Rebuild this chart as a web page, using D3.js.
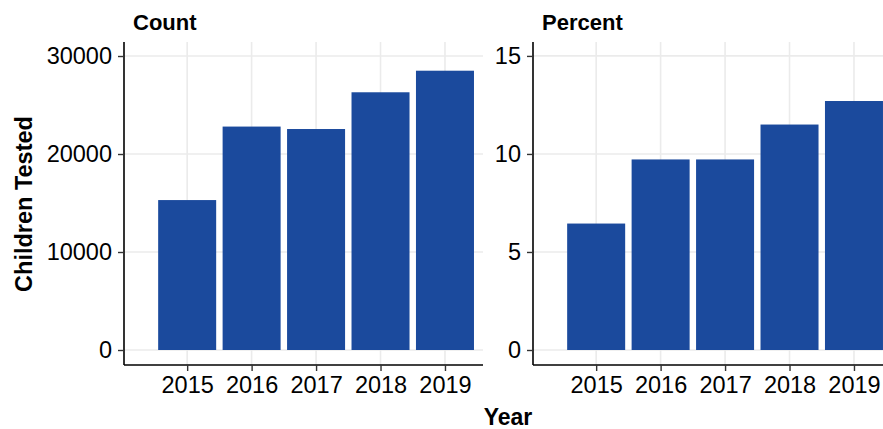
<!DOCTYPE html>
<html lang="en">
<head>
<meta charset="UTF-8">
<title>Children Tested</title>
<script src="https://d3js.org/d3.v7.min.js"></script>
<style>
    body { margin: 0; background: #fff; overflow: hidden; }
    text { font-family: 'Liberation Sans', Arial, sans-serif; fill: #000; }
    .tick text { font-size: 23.5px; }
    .title { font-size: 22px; font-weight: bold; }
    .grid line { stroke: #ebebeb; stroke-width: 1.6px; }
</style>
</head>
<body>
<div id="chart"></div>
<script>
    // data
    let years = [2015, 2016, 2017, 2018, 2019];
    let counts = [15300, 22800, 22550, 26300, 28500];
    let percents = [6.45, 9.72, 9.72, 11.5, 12.7];
    let countTicks = [0, 10000, 20000, 30000];
    let percentTicks = [0, 5, 10, 15];

    let width = 883, height = 429;
    let barColor = "#1b4a9d";

    let svg = d3.select("#chart").append("svg")
        .attr("width", width)
        .attr("height", height);

    let panelTop = 42, panelBottom = 365, panelW = 359;

    function panel(left, values, ticks, yMax, label) {
        let x = d3.scaleLinear()
            .domain([2014.02, 2019.59])
            .range([left, left + panelW]);
        // 0 sits at y=350, top of the panel at 42
        let y = d3.scaleLinear()
            .domain([-yMax * 15 / 308, yMax])
            .range([panelBottom, panelTop]);

        let g = svg.append("g");

        // grid
        let grid = g.append("g").attr("class", "grid");
        grid.selectAll(".v").data(years).enter().append("line")
            .attr("x1", d => x(d)).attr("x2", d => x(d))
            .attr("y1", panelTop).attr("y2", panelBottom);
        grid.selectAll(".h").data(ticks).enter().append("line")
            .attr("x1", left).attr("x2", left + panelW)
            .attr("y1", d => y(d)).attr("y2", d => y(d));

        // bars
        g.selectAll("rect").data(values).enter().append("rect")
            .attr("x", (d, i) => x(years[i] - 0.45))
            .attr("width", x(2015.9) - x(2015))
            .attr("y", d => y(d))
            .attr("height", d => y(0) - y(d))
            .attr("fill", barColor);

        // axes
        let yAxis = g.append("g")
            .attr("transform", "translate(" + left + ",0)")
            .call(d3.axisLeft(y).tickValues(ticks).tickSize(6).tickPadding(6).tickFormat(d3.format("d")));
        yAxis.select(".domain").attr("d", "M0," + panelTop + "V" + panelBottom);

        let xAxis = g.append("g")
            .attr("transform", "translate(0," + panelBottom + ")")
            .call(d3.axisBottom(x).tickValues(years).tickSize(6).tickPadding(5).tickFormat(d3.format("d")));
        xAxis.select(".domain").attr("d", "M" + left + ",0H" + (left + panelW));

        g.selectAll(".domain").attr("stroke", "#000").attr("stroke-width", 1.6);
        g.selectAll(".tick line").attr("stroke", "#333").attr("stroke-width", 1.4);
        g.selectAll(".tick text").attr("fill", "#000");

        svg.append("text")
            .attr("class", "title")
            .attr("x", left + 9)
            .attr("y", 30)
            .text(label);
    }

    panel(124, counts, countTicks, 31430, "Count");
    panel(533, percents, percentTicks, 15.71, "Percent");

    svg.append("text")
        .attr("class", "title")
        .attr("text-anchor", "middle")
        .attr("transform", "translate(32,204) rotate(-90)")
        .style("font-size", "23.5px")
        .text("Children Tested");

    svg.append("text")
        .attr("class", "title")
        .attr("text-anchor", "middle")
        .attr("x", 508)
        .attr("y", 425)
        .style("font-size", "23px")
        .text("Year");
</script>
</body>
</html>
